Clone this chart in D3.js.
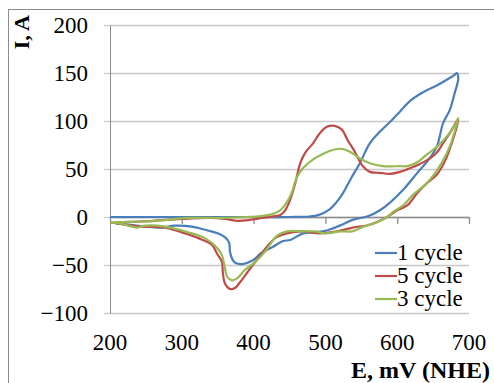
<!DOCTYPE html>
<html>
<head>
<meta charset="utf-8">
<script src="https://cdn.jsdelivr.net/npm/d3@7"></script>
<style>
  body { margin: 0; background: #fff; }
  svg { display: block; font-family: "Liberation Serif", "Times New Roman", serif; }
</style>
</head>
<body>
<div id="vis"></div>
<script>

// Frame constants
const FRAME_WIDTH = 494;
const FRAME_HEIGHT = 383;
const PLOT = {left: 110, right: 469, top: 25, bottom: 313};

// Axis ticks
const X_TICKS = [200, 300, 400, 500, 600, 700];
const Y_TICKS = [-100, -50, 0, 50, 100, 150, 200];

// Series names and colours
const SERIES_NAMES = ["1 cycle", "5 cycle", "3 cycle"];
const SERIES_COLORS = ["#4a7ebb", "#be4b48", "#98b954"];

// 1 cycle: potential (mV) and current
const CYCLE1_E = [200, 250, 300, 350, 400, 450, 478, 490, 506, 515, 523, 537, 548, 562, 576, 590, 604, 618, 636,
  655, 669, 680, 683, 685, 680, 673, 664, 655, 643, 628, 608, 590, 576, 560, 538, 520, 502, 485, 469, 451,
  441, 427, 410, 399, 384, 375, 371, 367, 366, 360, 350, 336, 314, 290, 272, 250, 225, 208];
const CYCLE1_I = [0, 0, 0, 0, 0, 0, 0.5, 2, 8, 15, 23, 42, 56, 77, 89, 99, 110, 121, 130,
  137, 143, 148, 150, 144, 129, 111, 98, 73, 59, 46, 28, 15, 7, 1, -3, -9, -14, -16, -17, -24,
  -25, -31, -38, -45, -49, -48, -45, -36, -27, -21, -17, -14, -10, -9, -11, -10, -8, -7];

// 5 cycle
const CYCLE5_E = [200, 230, 260, 300, 340, 360, 378, 395, 412, 430, 437, 444, 451, 458, 465, 472, 483, 492,
  502, 513, 523, 531, 541, 551, 562, 576, 590, 604, 622, 641, 655, 664, 673, 680, 685, 683, 676, 667, 655,
  641, 628, 614, 600, 586, 562, 538, 516, 492, 469, 446, 432, 423, 406, 392, 381, 374, 367, 360, 357, 356,
  349, 342, 323, 300, 277, 249, 231, 204];
const CYCLE5_I = [-6, -5, -4, -2, -1, -2, -4, -3, -1, 1, 2, 7, 18, 35, 56, 67, 77, 87,
  94, 95, 91, 80, 68, 54, 47, 46, 45, 47, 52, 59, 67, 77, 87, 96, 102, 94, 77, 59, 44,
  35, 25, 12, 7, 0, -8, -11, -15, -17, -15, -17, -21, -27, -43, -57, -68, -74, -75, -69, -57, -47,
  -38, -29, -22, -16, -11, -10, -9, -6];

// 3 cycle
const CYCLE3_E = [200, 230, 263, 309, 356, 392, 410, 426, 437, 446, 453, 460, 469, 483, 497, 511, 523, 534,
  548, 562, 580, 604, 614, 628, 641, 655, 667, 676, 683, 685, 680, 673, 664, 653, 641, 622, 608, 594, 586,
  570, 553, 537, 520, 500, 485, 469, 446, 432, 416, 402, 388, 377, 370, 363, 360, 356, 349, 332, 309, 277,
  249, 237, 231, 215, 204];
const CYCLE3_I = [-6, -5, -4, -1, -1, 0, 1, 3, 7, 15, 25, 41, 51, 60, 66, 70, 71, 68,
  61, 56, 53, 53, 53, 57, 65, 73, 82, 91, 99, 103, 89, 73, 59, 46, 35, 23, 12, 5, 0,
  -6, -10, -15, -15, -17, -15, -15, -15, -20, -36, -47, -55, -64, -66, -62, -53, -40, -32, -22, -16, -10,
  -9, -11, -10, -7, -6];

// Build series from the arrays
const SERIES = [
  {name: SERIES_NAMES[0], color: SERIES_COLORS[0], e: CYCLE1_E, i: CYCLE1_I},
  {name: SERIES_NAMES[1], color: SERIES_COLORS[1], e: CYCLE5_E, i: CYCLE5_I},
  {name: SERIES_NAMES[2], color: SERIES_COLORS[2], e: CYCLE3_E, i: CYCLE3_I}
];

const FRAME = d3.select("#vis")
                .append("svg")
                  .attr("width", FRAME_WIDTH)
                  .attr("height", FRAME_HEIGHT);

// Outer chart border (cut off by the picture on right and bottom)
FRAME.append("rect")
      .attr("x", 8.5)
      .attr("y", 9.5)
      .attr("width", 600)
      .attr("height", 600)
      .attr("fill", "none")
      .attr("stroke", "#8c8c8c")
      .attr("stroke-width", 1);

// Scales
const X_SCALE = d3.scaleLinear()
                  .domain([200, 700])
                  .range([PLOT.left, PLOT.right]);

const Y_SCALE = d3.scaleLinear()
                  .domain([-100, 200])
                  .range([PLOT.bottom, PLOT.top]);

// Horizontal gridlines
FRAME.append("g")
      .attr("transform", "translate(" + PLOT.left + ",0)")
      .call(d3.axisLeft(Y_SCALE)
              .tickValues(Y_TICKS)
              .tickSize(-(PLOT.right - PLOT.left))
              .tickFormat(""))
      .call(g => g.select(".domain").remove())
      .call(g => g.selectAll("line").attr("stroke", "#c8c8c8").attr("stroke-width", 1.3));

// Y axis with outside ticks and labels
FRAME.append("g")
      .attr("transform", "translate(" + PLOT.left + ",0)")
      .call(d3.axisLeft(Y_SCALE)
              .tickValues(Y_TICKS)
              .tickSize(6)
              .tickSizeOuter(0)
              .tickPadding(16))
      .call(g => g.select(".domain").attr("stroke", "#8c8c8c"))
      .call(g => g.selectAll("line").attr("stroke", "#c8c8c8").attr("stroke-width", 1.3))
      .call(g => g.selectAll("text")
                  .attr("font-family", "Liberation Serif")
                  .attr("font-size", "23px")
                  .attr("fill", "#000"));

// X axis crossing at zero, labels kept at the bottom
FRAME.append("g")
      .attr("transform", "translate(0," + Y_SCALE(0) + ")")
      .call(d3.axisBottom(X_SCALE)
              .tickValues(X_TICKS)
              .tickSize(7)
              .tickSizeOuter(0)
              .tickFormat(""))
      .call(g => g.select(".domain").attr("stroke", "#8c8c8c").attr("stroke-width", 1.3))
      .call(g => g.selectAll("line").attr("stroke", "#8c8c8c").attr("stroke-width", 1.3));

FRAME.append("g")
      .selectAll("text")
      .data(X_TICKS)
      .enter()
      .append("text")
        .attr("x", (d) => { return X_SCALE(d); })
        .attr("y", 350)
        .attr("text-anchor", "middle")
        .attr("font-size", "23px")
        .text((d) => { return d; });

// Series lines
const LINE = d3.line()
               .x((d) => { return X_SCALE(d[0]); })
               .y((d) => { return Y_SCALE(d[1]); })
               .curve(d3.curveCatmullRom.alpha(0.5));

FRAME.append("g")
      .selectAll("path")
      .data(SERIES)
      .enter()
      .append("path")
        .attr("d", (s) => { return LINE(d3.zip(s.e, s.i)); })
        .attr("fill", "none")
        .attr("stroke", (s) => { return s.color; })
        .attr("stroke-width", 2.2)
        .attr("stroke-linejoin", "round");

// Axis titles
FRAME.append("text")
      .attr("transform", "translate(29,15) rotate(-90)")
      .attr("text-anchor", "end")
      .attr("font-size", "22px")
      .attr("font-weight", "bold")
      .text("I, A");

FRAME.append("text")
      .attr("x", 490)
      .attr("y", 378)
      .attr("text-anchor", "end")
      .attr("font-size", "24px")
      .attr("font-weight", "bold")
      .text("E, mV (NHE)");

// Legend
const LEGEND = FRAME.append("g")
                    .selectAll("g")
                    .data(SERIES)
                    .enter()
                    .append("g")
                      .attr("transform", (d, k) => { return "translate(375," + (253 + k * 23) + ")"; });

LEGEND.append("line")
      .attr("x1", 0)
      .attr("x2", 22)
      .attr("stroke", (d) => { return d.color; })
      .attr("stroke-width", 2.2);

LEGEND.append("text")
      .attr("x", 22)
      .attr("y", 7)
      .attr("font-size", "23px")
      .text((d) => { return d.name; });

</script>
</body>
</html>
